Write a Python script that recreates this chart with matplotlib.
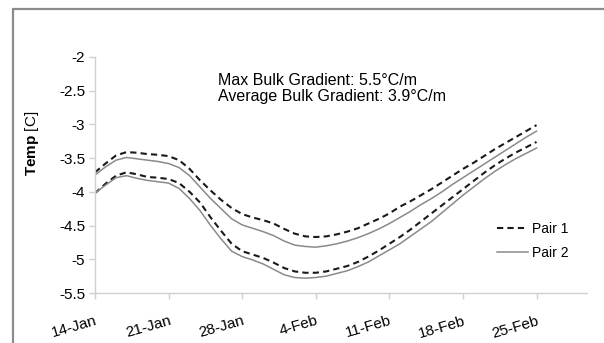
import datetime as dt
import matplotlib
matplotlib.use("Agg")
import matplotlib.pyplot as plt
import matplotlib.dates as mdates
from matplotlib.patches import Rectangle

plt.rcParams['font.family'] = ['Liberation Sans', 'DejaVu Sans']
plt.rcParams['mathtext.fontset'] = 'custom'
plt.rcParams['mathtext.rm'] = 'Liberation Sans'
plt.rcParams['mathtext.bf'] = 'Liberation Sans:bold'

# daily readings from 14 Jan to 25 Feb
start = dt.date(2009, 1, 14)
days = [start + dt.timedelta(days=i) for i in range(43)]

pair1_top = [-3.71, -3.58, -3.46, -3.41, -3.42, -3.44, -3.45, -3.47, -3.53, -3.66,
             -3.83, -3.98, -4.12, -4.24, -4.33, -4.38, -4.42, -4.47, -4.55, -4.62,
             -4.66, -4.67, -4.66, -4.63, -4.59, -4.54, -4.47, -4.40, -4.32, -4.22,
             -4.14, -4.05, -3.96, -3.86, -3.76, -3.66, -3.57, -3.47, -3.37, -3.28,
             -3.19, -3.10, -3.01]
pair2_top = [-3.75, -3.63, -3.53, -3.49, -3.51, -3.53, -3.55, -3.58, -3.64, -3.76,
             -3.93, -4.10, -4.25, -4.40, -4.49, -4.54, -4.59, -4.65, -4.73, -4.79,
             -4.81, -4.82, -4.80, -4.77, -4.73, -4.68, -4.62, -4.55, -4.47, -4.38,
             -4.29, -4.19, -4.10, -4.00, -3.89, -3.79, -3.69, -3.59, -3.49, -3.39,
             -3.29, -3.19, -3.10]
pair1_bot = [-4.02, -3.88, -3.76, -3.71, -3.74, -3.78, -3.79, -3.81, -3.87, -4.00,
             -4.16, -4.38, -4.58, -4.77, -4.88, -4.93, -4.98, -5.05, -5.13, -5.18,
             -5.20, -5.20, -5.18, -5.14, -5.10, -5.04, -4.96, -4.87, -4.77, -4.67,
             -4.56, -4.44, -4.32, -4.20, -4.08, -3.96, -3.84, -3.72, -3.61, -3.51,
             -3.42, -3.34, -3.26]
pair2_bot = [-4.02, -3.90, -3.79, -3.76, -3.80, -3.83, -3.85, -3.87, -3.95, -4.10,
             -4.28, -4.50, -4.70, -4.88, -4.96, -5.01, -5.07, -5.15, -5.23, -5.27,
             -5.28, -5.27, -5.25, -5.21, -5.17, -5.11, -5.04, -4.95, -4.86, -4.77,
             -4.66, -4.55, -4.44, -4.31, -4.18, -4.05, -3.93, -3.81, -3.70, -3.60,
             -3.51, -3.43, -3.35]

yticks = [-5.5, -5, -4.5, -4, -3.5, -3, -2.5, -2]

fig = plt.figure(figsize=(6.04, 3.43), dpi=100)
ax = fig.add_axes([95 / 604, 1 - 293 / 343, 492 / 604, 236 / 343])

# outer chart border
fig.patches.append(Rectangle((13 / 604, -0.2), 1.2, 0.2 + 1 - 9 / 343,
                             transform=fig.transFigure, fill=False,
                             edgecolor='#8c8c8c', linewidth=1.6, clip_on=False))

dash = (0, (3, 2))
ax.plot(days, pair1_top, color='#1a1a1a', lw=1.5, ls=dash, label='Pair 1')
ax.plot(days, pair2_top, color='#8a8a8a', lw=1.1, label='Pair 2')
ax.plot(days, pair1_bot, color='#1a1a1a', lw=1.5, ls=dash)
ax.plot(days, pair2_bot, color='#8a8a8a', lw=1.1)

ax.set_ylim(-5.5, -2)
ax.set_yticks(yticks)
ax.set_yticklabels(['%g' % v for v in yticks])
x0 = mdates.date2num(start)
ax.set_xlim(x0, x0 + 46.8)
ax.set_xticks([start + dt.timedelta(days=7 * k) for k in range(7)])
ax.xaxis.set_major_formatter(
    plt.FuncFormatter(lambda v, p: '%d-%s' % (mdates.num2date(v).day,
                                              mdates.num2date(v).strftime('%b'))))

for s in ['top', 'right']:
    ax.spines[s].set_visible(False)
for s in ['left', 'bottom']:
    ax.spines[s].set_color('#d0d0d0')
    ax.spines[s].set_linewidth(1.0)
ax.tick_params(axis='both', colors='#d0d0d0', labelcolor='black', labelsize=11,
               direction='out', length=4, width=1.0)
ax.tick_params(axis='y', pad=3)
ax.tick_params(axis='x', pad=11)
for lab in ax.get_xticklabels():
    lab.set_rotation(16)
    lab.set_ha('right')
    lab.set_rotation_mode('anchor')

fig.text(32 / 604, 1 - 143 / 343, r'$\bf{Temp}$ [C]', rotation=90,
         ha='center', va='center', fontsize=11)

ax.text(0.25, 0.932, 'Max Bulk Gradient: 5.5°C/m\nAverage Bulk Gradient: 3.9°C/m',
        transform=ax.transAxes, ha='left', va='top', fontsize=11.5, linespacing=1.05)

ax.legend(loc='upper left', bbox_to_anchor=(497 / 604, 1 - 222 / 343),
          bbox_transform=fig.transFigure, frameon=False, fontsize=10,
          handlelength=2.2, handletextpad=0.3, labelspacing=0.7,
          borderpad=0, borderaxespad=0)

fig.savefig('out.png', dpi=100)
